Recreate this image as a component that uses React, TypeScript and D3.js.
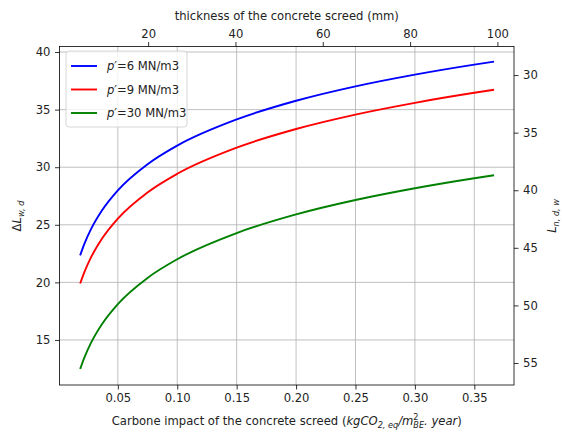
import React, { useRef, useEffect } from "react";
import * as d3 from "d3";

// carbon impact (kgCO2,eq/m2BE.year) where the curves were read
const carbon = [0.0183, 0.022, 0.0275, 0.0366, 0.05, 0.075, 0.1, 0.15, 0.2, 0.25, 0.3, 0.35, 0.3666];
const blueVals = [22.35, 23.38, 24.64, 26.24, 27.99, 30.26, 31.88, 34.15, 35.77, 37.02, 38.04, 38.91, 39.17];
const redVals = [19.9, 20.93, 22.19, 23.79, 25.54, 27.81, 29.43, 31.7, 33.32, 34.57, 35.59, 36.46, 36.72];
const greenVals = [12.48, 13.51, 14.77, 16.37, 18.12, 20.39, 22.01, 24.28, 25.9, 27.15, 28.17, 29.04, 29.3];
const seriesLabels = ["6", "9", "30"];
const seriesColors = ["#0000ff", "#ff0000", "#008000"];

const bottomTicks = [0.05, 0.1, 0.15, 0.2, 0.25, 0.3, 0.35];
const topTicks = [20, 40, 60, 80, 100];
const leftTicks = [15, 20, 25, 30, 35, 40];
const rightTicks = [30, 35, 40, 45, 50, 55];

const W = 562, H = 432;
const m = { left: 59.5, right: 514, top: 46.5, bottom: 385 };
const FONT = "DejaVu Sans, sans-serif";
const FS = 11.6;

export default function App() {
  const svgRef = useRef<SVGSVGElement>(null);

  useEffect(() => {
    const svg = d3.select(svgRef.current);
    svg.selectAll("*").remove();

    const x = d3.scaleLinear().domain([0.0009, 0.3834]).range([m.left, m.right]);
    const xTop = d3.scaleLinear().domain([-0.3, 103.8]).range([m.left, m.right]);
    const y = d3.scaleLinear().domain([11.09, 40.48]).range([m.bottom, m.top]);
    const yRight = d3.scaleLinear().domain([56.91, 27.52]).range([m.bottom, m.top]);

    svg.append("rect").attr("width", W).attr("height", H).attr("fill", "white");

    // grid
    const grid = svg.append("g").attr("stroke", "#b0b0b0").attr("stroke-width", 0.8);
    bottomTicks.forEach(t => {
      grid.append("line").attr("x1", x(t)).attr("x2", x(t)).attr("y1", m.top).attr("y2", m.bottom);
    });
    leftTicks.forEach(t => {
      grid.append("line").attr("y1", y(t)).attr("y2", y(t)).attr("x1", m.left).attr("x2", m.right);
    });

    // lines
    const series = [blueVals, redVals, greenVals];
    const line = d3.line<number>()
      .x((_, i) => x(carbon[i]))
      .y(d => y(d))
      .curve(d3.curveMonotoneX);
    series.forEach((vals, i) => {
      svg.append("path")
        .attr("d", line(vals))
        .attr("fill", "none")
        .attr("stroke", seriesColors[i])
        .attr("stroke-width", 1.9);
    });

    // axes
    const styleAxis = (g: any) => {
      g.select(".domain").remove();
      g.selectAll("line").attr("stroke", "#000").attr("stroke-width", 0.8);
      g.selectAll("text").attr("font-family", FONT).attr("font-size", FS).attr("fill", "#222");
    };
    svg.append("g").attr("transform", `translate(0,${m.bottom})`)
      .call(d3.axisBottom(x).tickValues(bottomTicks).tickFormat(d3.format(".2f")).tickSize(4.5).tickPadding(4.5))
      .call(styleAxis);
    svg.append("g").attr("transform", `translate(0,${m.top})`)
      .call(d3.axisTop(xTop).tickValues(topTicks).tickFormat(d3.format("d")).tickSize(4.5).tickPadding(4.5))
      .call(styleAxis);
    svg.append("g").attr("transform", `translate(${m.left},0)`)
      .call(d3.axisLeft(y).tickValues(leftTicks).tickFormat(d3.format("d")).tickSize(4.5).tickPadding(4.5))
      .call(styleAxis);
    svg.append("g").attr("transform", `translate(${m.right},0)`)
      .call(d3.axisRight(yRight).tickValues(rightTicks).tickFormat(d3.format("d")).tickSize(4.5).tickPadding(4.5))
      .call(styleAxis);

    // frame
    svg.append("rect")
      .attr("x", m.left).attr("y", m.top)
      .attr("width", m.right - m.left).attr("height", m.bottom - m.top)
      .attr("fill", "none").attr("stroke", "#000").attr("stroke-width", 0.8);

    // axis labels
    const txt = (xp: number, yp: number, rot = 0) =>
      svg.append("text")
        .attr("transform", `translate(${xp},${yp}) rotate(${rot})`)
        .attr("text-anchor", "middle")
        .attr("font-family", FONT).attr("font-size", FS).attr("fill", "#222");

    txt((m.left + m.right) / 2, 20).text("thickness of the concrete screed (mm)");

    const xl = txt((m.left + m.right) / 2, 425);
    xl.append("tspan").text("Carbone impact of the concrete screed (");
    xl.append("tspan").attr("font-style", "italic").text("kgCO");
    xl.append("tspan").attr("font-style", "italic").attr("font-size", FS * 0.7).attr("dy", 2.5).text("2, eq");
    xl.append("tspan").attr("font-style", "italic").attr("dy", -2.5).text("/m");
    xl.append("tspan").attr("font-size", FS * 0.7).attr("dy", -5).text("2");
    xl.append("tspan").attr("font-style", "italic").attr("font-size", FS * 0.7).attr("dx", -5.2).attr("dy", 8).text("BE");
    xl.append("tspan").attr("font-style", "italic").attr("dy", -3).text(". year");
    xl.append("tspan").text(")");

    const yl = txt(21, 216, -90);
    yl.append("tspan").text("Δ");
    yl.append("tspan").attr("font-style", "italic").text("L");
    yl.append("tspan").attr("font-style", "italic").attr("font-size", FS * 0.7).attr("dy", 2.5).text("w, d");

    const yr = txt(556, 216, -90);
    yr.append("tspan").attr("font-style", "italic").text("L");
    yr.append("tspan").attr("font-style", "italic").attr("font-size", FS * 0.7).attr("dy", 2.5).text("n, d, w");

    // legend
    const lg = svg.append("g");
    lg.append("rect")
      .attr("x", 66).attr("y", 51).attr("width", 121).attr("height", 76).attr("rx", 3)
      .attr("fill", "white").attr("fill-opacity", 0.8)
      .attr("stroke", "#cccccc").attr("stroke-width", 0.8);
    seriesLabels.forEach((lab, i) => {
      const ly = 66 + i * 23.5;
      lg.append("line").attr("x1", 71).attr("x2", 97).attr("y1", ly).attr("y2", ly)
        .attr("stroke", seriesColors[i]).attr("stroke-width", 1.9);
      const t = lg.append("text").attr("x", 107).attr("y", ly + 4.3)
        .attr("font-family", FONT).attr("font-size", FS).attr("fill", "#222");
      t.append("tspan").attr("font-style", "italic").text("p′");
      t.append("tspan").text(`=${lab} MN/m3`);
    });
  }, []);

  return (
    <svg ref={svgRef} width={W} height={H}
      style={{ position: "absolute", left: 0, top: 0, display: "block" }} />
  );
}
